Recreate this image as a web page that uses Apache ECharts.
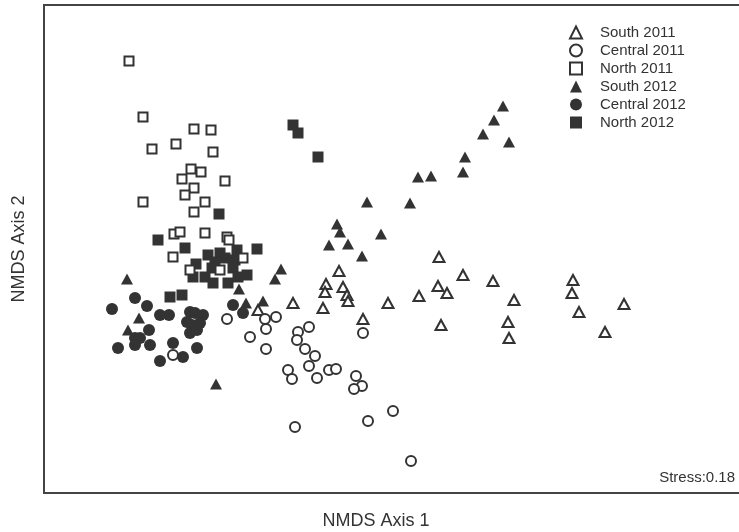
<!DOCTYPE html>
<html>
<head>
<meta charset="utf-8">
<script src="https://cdn.jsdelivr.net/npm/echarts@6/dist/echarts.min.js"></script>
<style>
html,body{margin:0;padding:0;background:#fff;}
#chart{width:739px;height:532px;}
</style>
</head>
<body>
<div id="chart"></div>
<script>
// NMDS scores (Axis 1, Axis 2)
const south2011 = [[-1.36,-0.61],[-1.01,-0.54],[-0.68,-0.35],[-0.69,-0.43],[-0.51,-0.38],[-0.47,-0.46],[-0.46,-0.52],[-0.71,-0.59],[-0.31,-0.70],[-0.06,-0.54],[-0.55,-0.22],[0.25,-0.47],[0.45,-0.08],[0.44,-0.37],[0.53,-0.44],[0.69,-0.26],[0.47,-0.76],[0.99,-0.32],[1.20,-0.51],[1.14,-0.73],[1.15,-0.89],[1.79,-0.31],[1.78,-0.44],[1.85,-0.63],[2.11,-0.83],[2.30,-0.55]];
const central2011 = [[-1.67,-0.70],[-1.44,-0.88],[-1.29,-0.70],[-1.18,-0.68],[-1.28,-0.80],[-1.28,-1.00],[-0.96,-0.83],[-0.85,-0.78],[-0.97,-0.91],[-0.89,-1.00],[-0.79,-1.07],[-0.85,-1.17],[-1.06,-1.21],[-1.02,-1.30],[-0.77,-1.29],[-0.65,-1.21],[-0.58,-1.20],[-0.38,-1.27],[-0.32,-1.37],[-0.40,-1.40],[-0.31,-0.84],[-0.01,-1.62],[-0.26,-1.72],[-0.99,-1.78],[-2.21,-1.06],[0.17,-2.12]];
const north2011 = [[-2.65,1.88],[-2.51,1.32],[-2.00,1.20],[-1.83,1.19],[-2.42,1.00],[-2.18,1.05],[-1.81,0.97],[-2.03,0.80],[-1.93,0.77],[-2.12,0.70],[-1.69,0.68],[-2.00,0.61],[-2.09,0.54],[-2.51,0.47],[-1.89,0.47],[-2.00,0.37],[-2.20,0.15],[-2.14,0.17],[-1.89,0.16],[-1.67,0.12],[-1.65,0.09],[-2.21,-0.08],[-1.51,-0.09],[-2.04,-0.21],[-1.74,-0.21]];
const south2012 = [[1.09,1.43],[1.00,1.29],[0.89,1.15],[1.15,1.07],[0.71,0.92],[0.69,0.77],[0.24,0.72],[0.37,0.73],[0.16,0.46],[-0.27,0.47],[-0.57,0.25],[-0.54,0.17],[-0.13,0.15],[-0.65,0.04],[-0.46,0.05],[-0.32,-0.07],[-1.13,-0.20],[-1.19,-0.30],[-1.55,-0.40],[-1.48,-0.54],[-1.31,-0.52],[-1.78,-1.35],[-2.67,-0.30],[-2.55,-0.69],[-2.66,-0.81]];
const central2012 = [[-2.82,-0.60],[-2.59,-0.49],[-2.47,-0.57],[-2.34,-0.66],[-2.25,-0.66],[-2.04,-0.63],[-1.99,-0.64],[-1.91,-0.66],[-2.07,-0.73],[-2.02,-0.76],[-1.94,-0.74],[-2.04,-0.84],[-1.97,-0.81],[-2.45,-0.81],[-2.59,-0.89],[-2.54,-0.89],[-2.76,-0.99],[-2.59,-0.96],[-2.44,-0.96],[-2.21,-0.94],[-2.11,-1.08],[-1.97,-0.99],[-2.34,-1.12],[-1.61,-0.56],[-1.51,-0.64]];
const north2012 = [[-1.01,1.24],[-0.96,1.16],[-0.76,0.92],[-1.75,0.35],[-2.36,0.09],[-2.09,0.01],[-1.86,-0.06],[-1.74,-0.04],[-1.57,-0.01],[-1.37,0.00],[-1.98,-0.15],[-1.79,-0.13],[-1.69,-0.09],[-1.59,-0.11],[-1.82,-0.19],[-1.61,-0.19],[-1.47,-0.26],[-2.01,-0.28],[-1.89,-0.28],[-1.81,-0.34],[-1.66,-0.34],[-1.56,-0.28],[-2.24,-0.48],[-2.12,-0.46]];

const seriesNames = ['South 2011','Central 2011','North 2011','South 2012','Central 2012','North 2012'];
const stressLabel = 'Stress:0.18';
const xAxisTitle = 'NMDS Axis 1';
const yAxisTitle = 'NMDS Axis 2';

const INK = '#333333';
const FONT = 'Liberation Sans, Arial, sans-serif';

function openSeries(name, data, symbol, size, z) {
  return {
    name, type: 'scatter', data, symbol, symbolSize: size, z,
    itemStyle: { color: '#ffffff', borderColor: INK, borderWidth: 2, opacity: 1 },
    emphasis: { disabled: true }
  };
}
function filledSeries(name, data, symbol, size, z) {
  return {
    name, type: 'scatter', data, symbol, symbolSize: size, z,
    itemStyle: { color: INK, borderWidth: 0, opacity: 1 },
    emphasis: { disabled: true }
  };
}

const chart = echarts.init(document.getElementById('chart'), null, { renderer: 'canvas' });
chart.setOption({
  animation: false,
  backgroundColor: '#ffffff',
  textStyle: { fontFamily: FONT },
  grid: { left: 44, top: 5, width: 700, height: 488, show: true, borderColor: '#444', borderWidth: 2,
          backgroundColor: 'transparent', outerBoundsMode: 'none', containLabel: false },
  xAxis: {
    type: 'value', min: -3.5, max: 3.5,
    name: xAxisTitle, nameLocation: 'middle', nameGap: 19,
    nameTextStyle: { fontSize: 18, color: INK, fontFamily: FONT, padding: [0, 36, 0, 0] },
    axisLine: { show: false }, axisTick: { show: false }, axisLabel: { show: false }, splitLine: { show: false }
  },
  yAxis: {
    type: 'value', min: -2.44, max: 2.44,
    name: yAxisTitle, nameLocation: 'middle', nameGap: 16, nameRotate: 90,
    nameTextStyle: { fontSize: 18, color: INK, fontFamily: FONT },
    axisLine: { show: false }, axisTick: { show: false }, axisLabel: { show: false }, splitLine: { show: false }
  },
  legend: {
    orient: 'vertical', left: 564, top: 20,
    itemWidth: 12, itemHeight: 12, itemGap: 3,
    data: seriesNames,
    selectedMode: false,
    textStyle: { fontSize: 15, color: INK, fontFamily: FONT, padding: [0, 0, 0, 13] }
  },
  graphic: [{
    type: 'text', right: 4, top: 470,
    style: { text: stressLabel, fontSize: 15, fill: INK, fontFamily: FONT }
  }],
  series: [
    filledSeries(seriesNames[3], south2012, 'triangle', [12, 11], 2),
    filledSeries(seriesNames[4], central2012, 'circle', 12, 2),
    filledSeries(seriesNames[5], north2012, 'rect', 11, 2),
    openSeries(seriesNames[0], south2011, 'triangle', [11, 10], 3),
    openSeries(seriesNames[1], central2011, 'circle', 10, 3),
    openSeries(seriesNames[2], north2011, 'rect', 9, 3)
  ]
});
</script>
</body>
</html>
